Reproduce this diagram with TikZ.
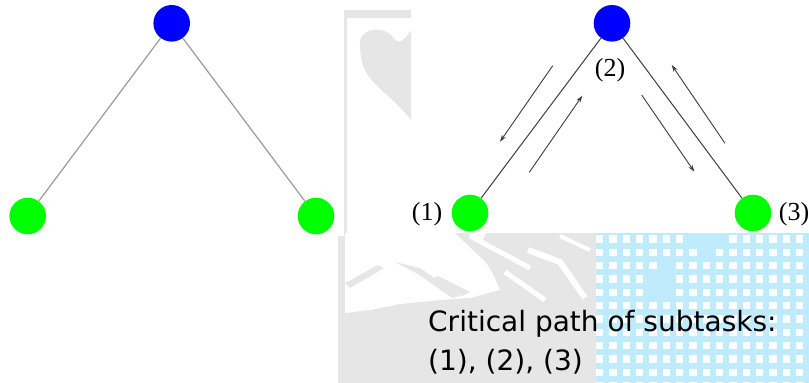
\documentclass[tikz,border=0pt]{standalone}
\usepackage{fontspec}
\newfontfamily\labelfont{Liberation Serif}
\newfontfamily\captionfont{DejaVu Sans}
\usetikzlibrary{arrows.meta}
\definecolor{nodeblue}{RGB}{0,0,255}
\definecolor{nodegreen}{RGB}{0,255,0}
\definecolor{markgrey}{RGB}{230,230,230}
\definecolor{gridblue}{RGB}{192,235,252}
\definecolor{edgegrey}{RGB}{155,155,155}
\definecolor{edgedark}{RGB}{60,60,60}
\tikzset{
  vertex/.style={circle, minimum size=36.6pt, inner sep=0pt, draw=none},
  rootv/.style={vertex, fill=nodeblue},
  leafv/.style={vertex, fill=nodegreen},
  lightedge/.style={draw=edgegrey, line width=1.2pt},
  darkedge/.style={draw=edgedark, line width=1pt},
  flow/.style={draw=edgedark, line width=0.9pt, -{Stealth[length=7pt,width=4.5pt]}},
  idx/.style={font=\labelfont\fontsize{26}{26}\selectfont, inner sep=0pt, anchor=base},
  caption/.style={font=\captionfont\fontsize{28}{28}\selectfont, inner sep=0pt, anchor=base west},
}
\begin{document}
\begin{tikzpicture}[x=1pt,y=-1pt]
\useasboundingbox (0,0) rectangle (809,383);
\fill[white] (0,0) rectangle (809,383);

% --- faint logo backdrop ---
\fill[markgrey] (338,10) rectangle (596,383);
% inner white of the top frame with the grey lobe
\fill[white] (347,18) -- (411,18) -- (411,236) -- (347,236) -- cycle;
\fill[markgrey] (360,45) .. controls (358,30) and (380,24) .. (392,36)
  .. controls (398,44) and (402,44) .. (411,30) -- (411,120)
  .. controls (396,100) and (378,90) .. (368,75)
  .. controls (362,66) and (360,55) .. (360,45) -- cycle;
% white landscape below
\fill[white] (345,233) -- (486,233) -- (478,250) -- (492,272) -- (500,290)
  -- (470,298) -- (440,300) -- (400,304) -- (370,310) -- (345,313) -- cycle;
\fill[markgrey] (345,283) -- (378,265) -- (384,268) -- (350,288) -- cycle;
\fill[markgrey] (395,262) -- (420,268) -- (460,296) -- (452,298) -- (418,274) -- cycle;
\fill[markgrey] (430,280) -- (438,276) -- (470,292) -- (462,296) -- cycle;
\fill[markgrey] (455,233) -- (468,233) -- (500,262) -- (492,268) -- cycle;
\draw[white, line width=5pt] (470,236) -- (530,268);
\draw[white, line width=6pt] (528,250) -- (560,262) -- (585,298);
\draw[white, line width=5pt] (505,272) -- (545,300);
\draw[white, line width=4pt] (560,236) -- (590,250);

% --- tiled blue panel ---
\fill[gridblue] (596,233) rectangle (809,383);
\foreach \j in {0,...,11}{
  \foreach \i in {0,...,15}{
    \pgfmathsetmacro{\skip}{
      (\j==0 && \i>=7 && \i<=9) || (\j==1 && \i==8) || (\j==2 && \i==5)
      || (\j==3 && (\i==4 || \i==5)) || (\j==4 && (\i==4 || \i==5)) ? 1 : 0}
    \ifdim\skip pt<0.5pt
      \fill[white] ({599.7+13.33*\i-3.6},{239+13.33*\j-3.6}) rectangle ++(7.2,7.2);
    \fi
  }
}

% --- two picture panels ---
\fill[white] (0,0) rectangle (344,236);
\fill[white] (411,0) rectangle (809,233);

% --- left tree ---
\node[rootv] (top) at (171.7,23.3) {};
\node[leafv] (left) at (27.7,216) {};
\node[leafv] (right) at (316,216) {};
\draw[lightedge] (top) -- (left);
\draw[lightedge] (top) -- (right);

% --- right tree with message flow ---
\node[rootv] (top2) at (612,23.3) {};
\node[leafv] (left2) at (470,213) {};
\node[leafv] (right2) at (753,213) {};
\draw[darkedge] (top2) -- (left2);
\draw[darkedge] (top2) -- (right2);

\coordinate (a1s) at (552.7,65.7);  \coordinate (a1e) at (500,141.7);
\coordinate (a2s) at (529.3,172.3); \coordinate (a2e) at (582.3,95.7);
\coordinate (a3s) at (641.7,95);    \coordinate (a3e) at (694.3,171.7);
\coordinate (a4s) at (725,143.3);   \coordinate (a4e) at (671.7,65);
\draw[flow] (a1s) -- (a1e);
\draw[flow] (a2s) -- (a2e);
\draw[flow] (a3s) -- (a3e);
\draw[flow] (a4s) -- (a4e);

\node[idx] (l1) at (427,220) {(1)};
\node[idx] (l2) at (610,76) {(2)};
\node[idx] (l3) at (794,220) {(3)};

% --- caption ---
\node[caption] (cap1) at (428,331) {Critical path of subtasks:};
\node[caption] (cap2) at (428,370) {(1), (2), (3)};
\end{tikzpicture}
\end{document}
